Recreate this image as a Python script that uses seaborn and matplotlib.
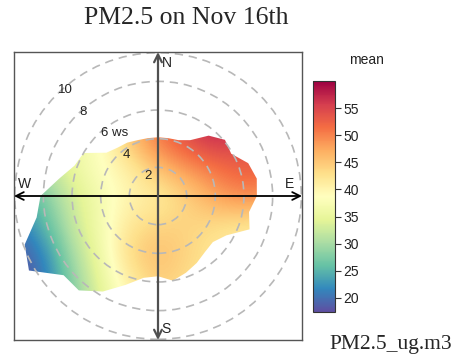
import numpy as np
import matplotlib
matplotlib.use('Agg')
import matplotlib.pyplot as plt
import seaborn as sns
from matplotlib.patches import Polygon, Circle

sns.set_style('white')
plt.rcParams['font.family'] = ['Liberation Sans', 'DejaVu Sans']

# ==================== 数据 ====================
title = 'PM2.5 on Nov 16th'
pollutant = 'PM2.5_ug.m3'
# 网格坐标 (风速分量 u/v, 单位 ws)
u_grid = [-10, -8, -6, -4, -2, 0, 2, 4, 6, 8, 10]
v_grid = [10, 8, 6, 4, 2, 0, -2, -4, -6, -8, -10]
# 各网格点的平均浓度 (行: v 从北到南, 列: u 从西到东)
mean_v10 = [36, 37, 38, 40, 43, 47, 51, 54, 56, 56, 55]
mean_v8 = [35, 36, 37, 39, 43, 48, 53, 57, 58, 57, 56]
mean_v6 = [34, 35, 36, 38, 43, 50, 55, 61, 57, 56, 55]
mean_v4 = [32, 33, 36, 38, 46, 51, 54, 57, 55, 54, 53]
mean_v2 = [29, 31, 35.5, 38.5, 41, 46, 49, 51, 53, 52, 51]
mean_v0 = [24, 27, 33, 37, 40, 41, 44, 48, 50, 49, 47]
mean_vm2 = [20, 25, 32, 37, 42, 44, 44, 43, 42, 42, 41]
mean_vm4 = [18, 21, 30, 36, 44, 46, 44, 42, 41, 41, 41]
mean_vm6 = [17, 20, 28, 35, 41, 45, 43, 42, 41, 41, 41]
mean_vm8 = [17, 20, 27, 34, 39, 43, 42, 41, 41, 41, 41]
mean_vm10 = [17, 19, 26, 33, 38, 42, 41, 41, 40, 40, 40]
# 有数据区域的边界 (按方位角, 每10度一个半径)
edge_bearing = list(range(0, 360, 10))
edge_radius = [4.1, 4.1, 4.15, 4.5, 5.5, 6.1, 5.9, 6.7, 7.0, 6.9,
               6.45, 6.8, 5.5, 5.0, 5.1, 5.4, 5.7, 6.0, 5.6, 5.8,
               6.6, 7.7, 8.6, 8.6, 10.4, 9.9, 8.6, 8.2, 7.0, 6.2,
               6.0, 4.7, 4.4, 4.3, 4.15, 4.1]
ring_ws = [2, 4, 6, 8, 10]
ring_labels = ['2', '4', '6 ws', '8', '10']
cbar_ticks = [20, 25, 30, 35, 40, 45, 50, 55]
vmin, vmax = 17.4, 60

grid = np.array([mean_v10, mean_v8, mean_v6, mean_v4, mean_v2, mean_v0,
                 mean_vm2, mean_vm4, mean_vm6, mean_vm8, mean_vm10], dtype=float)
step = u_grid[1] - u_grid[0]
extent = (u_grid[0] - step / 2, u_grid[-1] + step / 2,
          v_grid[-1] - step / 2, v_grid[0] + step / 2)

cmap = sns.color_palette('Spectral_r', as_cmap=True)

# ==================== 绘图 ====================
fig = plt.figure(figsize=(4.58, 3.6), dpi=100)
ax = fig.add_axes([14 / 458, 20 / 360, 288 / 458, 288 / 360])
lim = 10.05
ax.set_xlim(-lim, lim)
ax.set_ylim(-lim, lim)
ax.set_aspect('equal')
ax.set_xticks([])
ax.set_yticks([])
for sp in ax.spines.values():
    sp.set_color('#555555')
    sp.set_linewidth(1.0)

im = ax.imshow(grid, extent=extent, origin='upper', cmap=cmap, vmin=vmin, vmax=vmax,
               interpolation='bicubic', interpolation_stage='data', zorder=1)
b = np.deg2rad(edge_bearing)
r = np.array(edge_radius)
poly = Polygon(np.column_stack([r * np.sin(b), r * np.cos(b)]), closed=True,
               facecolor='none', edgecolor='none', transform=ax.transData)
ax.add_patch(poly)
im.set_clip_path(poly)

# 风速圈
for ws in ring_ws:
    ax.add_patch(Circle((0, 0), ws, fill=False, ec='#b8b8b8', lw=1.2,
                        ls=(0, (5, 3.5)), zorder=2))
# 标签放在315度方向, 向右偏移
lab_ang = np.deg2rad(315)
for ws, lab in zip(ring_ws, ring_labels):
    rr = ws * 1.065
    ax.text(rr * np.sin(lab_ang) + 0.52, rr * np.cos(lab_ang) - 0.13, lab, fontsize=9.5,
            ha='left', va='center', color='#222222', zorder=4)

# 坐标轴箭头
ax.annotate('', xy=(-lim, 0), xytext=(lim, 0),
            arrowprops=dict(arrowstyle='<->', color='black', lw=1.3,
                            mutation_scale=14, shrinkA=0, shrinkB=0), zorder=3)
ax.annotate('', xy=(0, lim), xytext=(0, -lim),
            arrowprops=dict(arrowstyle='<->', color='#505050', lw=1.6,
                            mutation_scale=14, shrinkA=0, shrinkB=0), zorder=3)
ax.text(0.25, 9.3, 'N', fontsize=10, ha='left', va='center', color='#222222')
ax.text(0.25, -9.3, 'S', fontsize=10, ha='left', va='center', color='#222222')
ax.text(-9.75, 0.35, 'W', fontsize=10, ha='left', va='bottom', color='#222222')
ax.text(9.2, 0.35, 'E', fontsize=10, ha='center', va='bottom', color='#222222')

# 颜色条
cax = fig.add_axes([313 / 458, 48 / 360, 22 / 458, 231 / 360])
cb = fig.colorbar(im, cax=cax, ticks=cbar_ticks)
cb.outline.set_edgecolor('#333333')
cb.outline.set_linewidth(0.8)
cax.tick_params(labelsize=10, length=4, width=0.8, color='#333333', labelcolor='#222222', pad=2)
fig.text(366 / 458, 1 - 60 / 360, 'mean', fontsize=10, ha='center', va='center', color='#222222')

fig.text(452 / 458, 1 - 345 / 360, pollutant, fontsize=15.5, ha='right', va='center',
         family=['Liberation Serif', 'DejaVu Serif'])
fig.text(186 / 458, 1 - 18 / 360, title, fontsize=18.5, ha='center', va='center',
         family=['Liberation Serif', 'DejaVu Serif'])

fig.savefig('out.png', dpi=100)
